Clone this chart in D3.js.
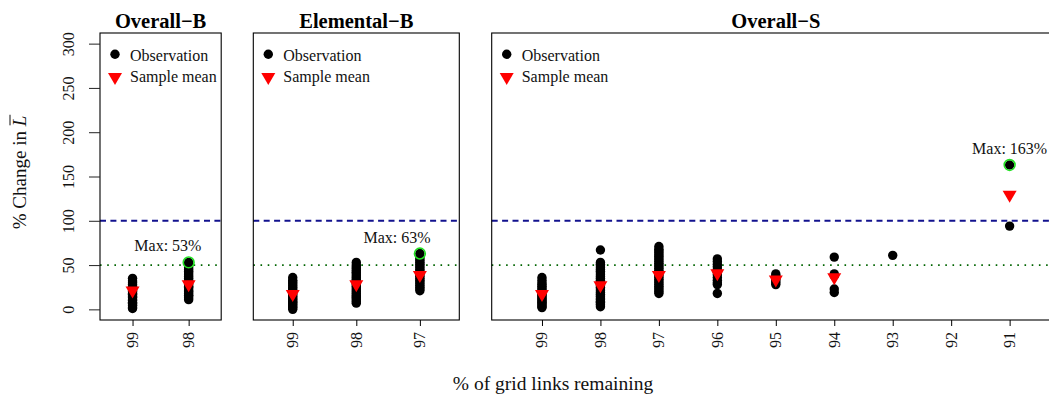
<!DOCTYPE html>
<html>
<head>
<meta charset="utf-8">
<script src="https://cdn.jsdelivr.net/npm/d3@7"></script>
<style>
  html, body { margin: 0; padding: 0; background: #fff; }
  svg { display: block; font-family: "Liberation Serif", "Times New Roman", serif; }
</style>
</head>
<body>
<svg id="chart" width="1049" height="398"></svg>
<script>
// ---------- data ----------
const panelTitles = ["Overall\u2212B", "Elemental\u2212B", "Overall\u2212S"];
const categoriesOverallB = ["99", "98"];
const categoriesElementalB = ["99", "98", "97"];
const categoriesOverallS = ["99", "98", "97", "96", "95", "94", "93", "92", "91"];
const yTickValues = [0, 50, 100, 150, 200, 250, 300];
const referenceHigh = 100;  // dashed line
const referenceLow = 50;    // dotted line

// observations (% change), one list per category
const obsOverallB = [
  [1, 2, 4, 5, 7, 8, 10, 11, 13, 14, 15, 17, 18, 20, 21, 23, 24, 26, 28, 30, 32, 35],
  [11, 13, 15, 16, 18, 20, 21, 23, 25, 26, 28, 30, 31, 33, 35, 37, 39, 41, 43, 45, 47, 49, 51, 53]
];
const obsElementalB = [
  [0, 2, 3, 5, 6, 8, 9, 11, 12, 14, 15, 17, 19, 21, 23, 25, 27, 29, 31, 33, 36],
  [7, 9, 11, 13, 14, 16, 18, 20, 22, 24, 26, 28, 30, 32, 34, 36, 38, 40, 42, 44, 46, 48, 50, 53],
  [21, 23, 25, 27, 29, 31, 33, 35, 37, 39, 41, 43, 45, 47, 49, 51, 53, 55, 57, 59, 63]
];
const obsOverallS = [
  [2, 3, 5, 6, 8, 9, 11, 12, 14, 15, 17, 18, 20, 22, 24, 26, 28, 30, 33, 36],
  [3, 5, 6, 8, 9, 11, 12, 14, 15, 17, 19, 21, 23, 25, 27, 29, 31, 33, 35, 37, 39, 41, 43, 45, 47, 49, 51, 53, 67],
  [18, 20, 22, 24, 26, 28, 30, 32, 34, 36, 38, 40, 42, 44, 46, 48, 50, 52, 54, 56, 58, 60, 62, 64, 66, 68, 71],
  [18, 28, 30, 33, 36, 39, 42, 45, 48, 51, 54, 57],
  [28, 30, 32, 34, 36, 38, 40],
  [19, 23, 38, 40, 59],
  [61],
  [],
  [94, 163]
];
// sample means (null = not drawn)
const meanOverallB = [19, 26];
const meanElementalB = [15, 26, 36.5];
const meanOverallS = [15, 25, 36.5, 38.5, 31.5, 34, null, null, 127];
// labelled maxima
const maxOverallB = 53;
const maxElementalB = 63;
const maxOverallS = 163;

// ---------- layout ----------
const panels = [
  { title: panelTitles[0], cats: categoriesOverallB, obs: obsOverallB, means: meanOverallB, max: maxOverallB, left: 100, right: 221.2, yAxis: true, labelShift: -0.37 },
  { title: panelTitles[1], cats: categoriesElementalB, obs: obsElementalB, means: meanElementalB, max: maxElementalB, left: 253.3, right: 459.3, yAxis: false, labelShift: -0.36 },
  { title: panelTitles[2], cats: categoriesOverallS, obs: obsOverallS, means: meanOverallS, max: maxOverallS, left: 491.7, right: 1059.9, yAxis: false, labelShift: 0, titleX: 775.8 }
];
const plotTop = 33, plotBottom = 320;
const svg = d3.select("#chart");

const y = d3.scaleLinear().domain([-12, 312]).range([plotBottom, plotTop]);

function triPath(cx, cy) {
  return `M${cx - 7},${cy - 6}L${cx + 7},${cy - 6}L${cx},${cy + 6}Z`;
}

panels.forEach((p, pi) => {
  const n = p.cats.length;
  const x = d3.scaleLinear()
    .domain([0.5 - 0.04 * n, n + 0.5 + 0.04 * n])
    .range([p.left, p.right]);
  const g = svg.append("g");

  // reference lines
  g.append("line")
    .attr("x1", p.left).attr("x2", p.right)
    .attr("y1", y(referenceHigh)).attr("y2", y(referenceHigh))
    .attr("stroke", "#12128e").attr("stroke-width", 2)
    .attr("stroke-dasharray", "6,4.4");
  g.append("line")
    .attr("x1", p.left).attr("x2", p.right)
    .attr("y1", y(referenceLow)).attr("y2", y(referenceLow))
    .attr("stroke", "#006400").attr("stroke-width", 1.6)
    .attr("stroke-dasharray", "1.6,5.6");

  // observations
  const pts = [];
  p.obs.forEach((vals, i) => vals.forEach(v => pts.push({ i: i + 1, v })));
  g.selectAll("circle.obs").data(pts).enter().append("circle")
    .attr("class", "obs")
    .attr("cx", d => x(d.i)).attr("cy", d => y(d.v))
    .attr("r", 4.7).attr("fill", "#000");

  // sample means
  const ms = p.means.map((m, i) => ({ i: i + 1, m })).filter(d => d.m !== null);
  g.selectAll("path.mean").data(ms).enter().append("path")
    .attr("class", "mean")
    .attr("d", d => triPath(x(d.i), y(d.m)))
    .attr("fill", "#ff0000");

  // maximum highlight
  let maxIdx = 0;
  p.obs.forEach((vals, i) => { if (vals.includes(p.max)) maxIdx = i + 1; });
  g.append("circle")
    .attr("cx", x(maxIdx)).attr("cy", y(p.max))
    .attr("r", 5.4).attr("fill", "none")
    .attr("stroke", "#22e022").attr("stroke-width", 1.6);
  g.append("text")
    .attr("x", x(maxIdx + p.labelShift)).attr("y", y(p.max) - 11)
    .attr("text-anchor", "middle")
    .attr("font-size", 16).attr("fill", "#111")
    .text(`Max: ${p.max}%`);

  // box
  g.append("rect")
    .attr("x", p.left).attr("y", plotTop)
    .attr("width", p.right - p.left).attr("height", plotBottom - plotTop)
    .attr("fill", "none").attr("stroke", "#000").attr("stroke-width", 1.1);

  // x axis
  const xa = g.append("g").attr("transform", `translate(0,${plotBottom})`)
    .call(d3.axisBottom(x).tickValues(d3.range(1, n + 1))
      .tickFormat(i => p.cats[i - 1]).tickSize(6));
  xa.select(".domain").remove();
  xa.selectAll(".tick line").attr("stroke", "#000");
  xa.selectAll(".tick text")
    .attr("x", null).attr("y", null).attr("dy", null)
    .attr("transform", "translate(5,12) rotate(-90)")
    .attr("text-anchor", "end")
    .attr("font-size", 16).attr("font-family", "Liberation Serif, serif")
    .attr("fill", "#111");

  // y axis
  if (p.yAxis) {
    const ya = g.append("g").attr("transform", `translate(${p.left},0)`)
      .call(d3.axisLeft(y).tickValues(yTickValues).tickSize(11));
    ya.select(".domain").remove();
    ya.selectAll(".tick line").attr("stroke", "#222");
    ya.selectAll(".tick text")
      .attr("x", null).attr("dy", null)
      .attr("transform", "translate(-26,0) rotate(-90)")
      .attr("text-anchor", "middle")
      .attr("font-size", 16).attr("font-family", "Liberation Serif, serif")
      .attr("fill", "#111");
  }

  // title
  g.append("text")
    .attr("x", p.titleX !== undefined ? p.titleX : (p.left + p.right) / 2)
    .attr("y", 28)
    .attr("text-anchor", "middle")
    .attr("font-size", 20.5).attr("font-weight", "bold")
    .text(p.title);

  // legend
  const lx = p.left + 15;
  g.append("circle").attr("cx", lx).attr("cy", 54.3).attr("r", 4.7).attr("fill", "#000");
  g.append("text").attr("x", lx + 15).attr("y", 60.5).attr("font-size", 16).attr("fill", "#111").text("Observation");
  g.append("path").attr("d", triPath(lx, 79)).attr("fill", "#ff0000");
  g.append("text").attr("x", lx + 15).attr("y", 82).attr("font-size", 16).attr("fill", "#111").text("Sample mean");
});

// x axis title
svg.append("text")
  .attr("x", 553).attr("y", 390)
  .attr("text-anchor", "middle")
  .attr("font-size", 19.5).attr("fill", "#111")
  .text("% of grid links remaining");

// y axis title with overlined italic L
const yl = svg.append("g").attr("transform", "translate(26,172.5) rotate(-90)");
const ylText = yl.append("text").attr("text-anchor", "middle").attr("font-size", 19).attr("fill", "#111");
const t1 = ylText.append("tspan").text("% Change in ");
const t2 = ylText.append("tspan").attr("font-style", "italic").text("L");
const total = ylText.node().getComputedTextLength();
const l1 = t1.node().getComputedTextLength();
const l2 = t2.node().getComputedTextLength();
yl.append("line")
  .attr("x1", -total / 2 + l1 + 1).attr("x2", -total / 2 + l1 + l2 + 1)
  .attr("y1", -16).attr("y2", -16)
  .attr("stroke", "#111").attr("stroke-width", 1);
</script>
</body>
</html>
